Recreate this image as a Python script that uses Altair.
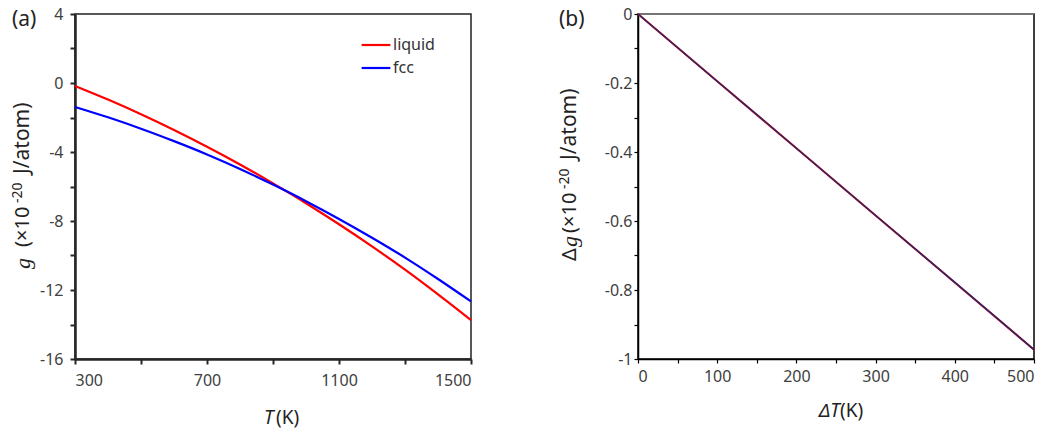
import altair as alt
import pandas as pd

# ---------------- data ----------------
T = [300, 400, 500, 600, 700, 800, 900, 1000, 1100, 1200, 1300, 1400, 1500]
g_liquid = [-0.17, -0.96, -1.81, -2.72, -3.69, -4.72, -5.82, -6.97, -8.19, -9.47, -10.82, -12.25, -13.74]
g_fcc = [-1.39, -1.99, -2.65, -3.37, -4.14, -4.98, -5.89, -6.85, -7.88, -8.97, -10.12, -11.36, -12.66]
phases = ["liquid", "fcc"]
phase_colors = ["#ff0000", "#0000ff"]

dT = [0, 100, 200, 300, 400, 500]
dg_red = [0, -0.195, -0.389, -0.584, -0.778, -0.973]
dg_navy = [0, -0.195, -0.389, -0.584, -0.778, -0.973]

x_ticks_a = [300, 500, 700, 900, 1100, 1300, 1500]
y_ticks_a = [-16, -14, -12, -10, -8, -6, -4, -2, 0, 2, 4]
x_ticks_b = [0, 50, 100, 150, 200, 250, 300, 350, 400, 450, 500]
y_ticks_b = [-1, -0.9, -0.8, -0.7, -0.6, -0.5, -0.4, -0.3, -0.2, -0.1, 0]

FONT = "Noto Sans"
W, H = 396, 345

df_a = pd.DataFrame({
    "T": T * 2,
    "g": g_liquid + g_fcc,
    "phase": [phases[0]] * len(T) + [phases[1]] * len(T),
})
df_b = pd.DataFrame({"dT": dT, "red": dg_red, "navy": dg_navy})


def txt(s, x, y, size=19, style="normal", font=FONT, angle=0, align="left"):
    return alt.Chart(pd.DataFrame({"t": [s]})).mark_text(
        font=font, fontSize=size, fontStyle=style, angle=angle, align=align,
        baseline="middle", color="#222222"
    ).encode(x=alt.value(x), y=alt.value(y), text="t:N")


def ytitle(x, y_parts):
    """Rotated axis title built from pieces: list of (text, y, size, style, font, dx)."""
    return [txt(s, x + dx, y, size=sz, style=st, font=f, angle=270)
            for (s, y, sz, st, f, dx) in y_parts]


# ---------------- panel (a) ----------------
xa = alt.X("T:Q", scale=alt.Scale(domain=[300, 1500], nice=False, zero=False),
           axis=alt.Axis(values=x_ticks_a, title=None,
                         labelExpr="(datum.value-300)%400==0 ? toString(datum.value) : ''",
                         domainColor="#262626", domainWidth=2.5, tickColor="#262626",
                         tickWidth=2, tickSize=5, labelPadding=8, grid=False))
ya = alt.Y("g:Q", scale=alt.Scale(domain=[-16, 4], nice=False, zero=False),
           axis=alt.Axis(values=y_ticks_a, title=None,
                         labelExpr="datum.value%4==0 ? toString(datum.value) : ''",
                         domainColor="#262626", domainWidth=2.5, tickColor="#262626",
                         tickWidth=2, tickSize=5, labelPadding=7, grid=False))

lines_a = alt.Chart(df_a).mark_line(strokeWidth=2.2, interpolate="monotone").encode(
    x=xa, y=ya,
    color=alt.Color("phase:N", sort=phases,
                    scale=alt.Scale(domain=phases, range=phase_colors),
                    legend=alt.Legend(title=None, orient="none", legendX=288, legendY=18,
                                      symbolType="M-1.25,0H1.25", symbolSize=529,
                                      symbolStrokeWidth=2.2, labelFontSize=16,
                                      labelFont=FONT, labelColor="#333333",
                                      labelOffset=4, padding=0, rowPadding=2)),
)

serif = "Liberation Serif"
panel_a = alt.layer(
    lines_a,
    txt("(a)", -63, 6, size=21),
    txt("T", 189, 404, style="italic"),
    txt("(K)", 201, 404),
    *ytitle(-52, [
        ("g", 255, 22, "italic", serif, 0),
        ("(×10", 233, 20, "normal", FONT, 0),
        ("-20", 189, 14, "normal", FONT, -5),
        ("J/atom)", 160, 21, "normal", FONT, 0),
    ]),
).properties(width=W, height=H, view=alt.ViewBackground(stroke="#222222", strokeWidth=1.5))

# ---------------- panel (b) ----------------
xb = alt.X("dT:Q", scale=alt.Scale(domain=[0, 500], nice=False),
           axis=alt.Axis(values=x_ticks_b, title=None,
                         labelExpr="datum.value%100==0 ? toString(datum.value) : ''",
                         domainColor="#000000", domainWidth=1.5, tickColor="#000000",
                         tickWidth=1.2, tickSize=4, labelPadding=5, grid=False))
yb_axis = alt.Axis(values=y_ticks_b, title=None,
                   labelExpr="round(datum.value*10)%2==0 ? toString(datum.value) : ''",
                   domainColor="#000000", domainWidth=1.5, tickColor="#000000",
                   tickWidth=1.2, tickSize=4, labelPadding=2, grid=False)
sc_b = alt.Scale(domain=[-1, 0], nice=False, zero=False)

red_b = alt.Chart(df_b).mark_line(color="#ff0000", strokeWidth=2).encode(
    x=xb, y=alt.Y("red:Q", scale=sc_b, axis=yb_axis))
navy_b = alt.Chart(df_b).mark_line(color="#1f2a6e", strokeWidth=1.5).encode(
    x=xb, y=alt.Y("navy:Q", scale=sc_b, axis=yb_axis))
zero_b = alt.Chart(pd.DataFrame({"z": [0]})).mark_rule(color="#888888", strokeWidth=1.5).encode(
    y=alt.Y("z:Q", scale=sc_b, axis=yb_axis))

panel_b = alt.layer(
    zero_b, red_b, navy_b,
    txt("(b)", -79, 6, size=21),
    txt("ΔT", 181, 397, style="italic"),
    txt("(K)", 202, 397),
    *ytitle(-68, [
        ("Δ", 247, 20, "normal", FONT, 0),
        ("g", 233, 22, "italic", serif, 0),
        ("(×10", 219, 20, "normal", FONT, 0),
        ("-20", 175, 14, "normal", FONT, -5),
        ("J/atom)", 146, 21, "normal", FONT, 0),
    ]),
).properties(width=W, height=H, view=alt.ViewBackground(stroke="#000000", strokeWidth=1.5))

chart = alt.hconcat(panel_a, panel_b, spacing=167, bounds="flush").properties(
    padding={"left": 10, "top": 5, "right": 5, "bottom": 0},
    background="white",
).configure_axis(
    labelFont=FONT, labelFontSize=16, labelColor="#404040",
).configure_view(stroke="#222222")

chart.save("out.html", embed_options={"renderer": "svg", "actions": False})
